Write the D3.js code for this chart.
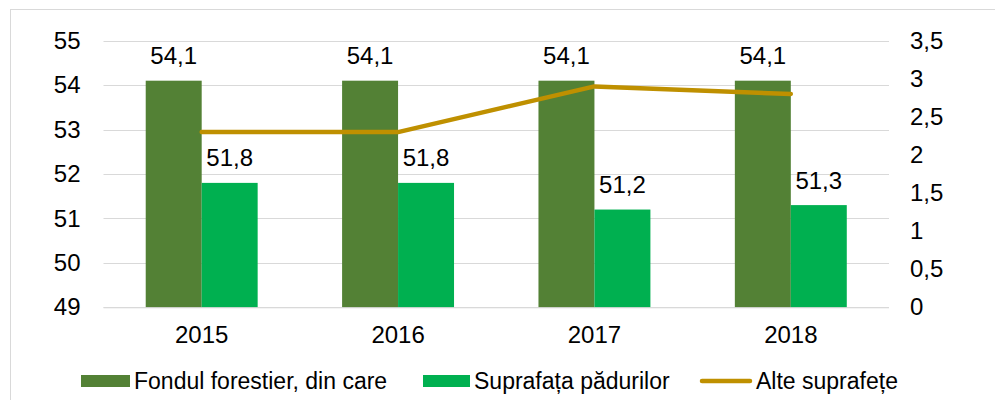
<!DOCTYPE html>
<html>
<head>
<meta charset="utf-8">
<title>Fond forestier</title>
<script src="https://cdn.jsdelivr.net/npm/d3@7"></script>
<style>
  body{ margin:0; background:#fff; }
  svg{ display:block; font-family:"Liberation Sans", Arial, sans-serif; }
  .grid line{ stroke:#d9d9d9; stroke-width:1; }
  .lbl{ font-size:24px; fill:#000; }
  .leg{ font-size:23px; fill:#000; }
</style>
</head>
<body>
<svg id="chart" width="995" height="400"></svg>
<script>
// data
var years = ["2015", "2016", "2017", "2018"];
var fondForestier = [54.1, 54.1, 54.1, 54.1];
var suprafataPadurilor = [51.8, 51.8, 51.2, 51.3];
var alteSuprafete = [2.3, 2.3, 2.9, 2.8];
var leftTicks = [49, 50, 51, 52, 53, 54, 55];
var rightTicks = [0, 0.5, 1, 1.5, 2, 2.5, 3, 3.5];
var seriesNames = ["Fondul forestier, din care", "Suprafața pădurilor", "Alte suprafețe"];
var colors = ["#538135", "#00b050", "#bf9000"];

var svg = d3.select("#chart");
var plotL = 103.5, plotR = 889, plotT = 40.7, plotB = 307.3;

var fmt = function(v){ return String(v).replace(".", ","); };

// outer border
svg.append("rect")
   .attr("x", 10.5).attr("y", 9.5)
   .attr("width", 1000).attr("height", 500)
   .attr("fill", "none").attr("stroke", "#d9d9d9");

var x = d3.scaleBand().domain(years).range([plotL, plotR]).paddingInner(0.43).paddingOuter(0.215);
var y = d3.scaleLinear().domain([49, 55]).range([plotB, plotT]);
var y2 = d3.scaleLinear().domain([0, 3.5]).range([plotB, plotT]);
var bw = x.bandwidth() / 2;

// gridlines
svg.append("g").attr("class", "grid")
   .selectAll("line").data(leftTicks).enter().append("line")
   .attr("x1", plotL).attr("x2", plotR)
   .attr("y1", function(d){ return Math.round(y(d)) + 0.5; })
   .attr("y2", function(d){ return Math.round(y(d)) + 0.5; });

// left axis
var gl = svg.append("g").attr("transform", "translate(" + plotL + ",0)")
   .call(d3.axisLeft(y).tickValues(leftTicks).tickSize(0).tickPadding(23).tickFormat(fmt));
gl.select(".domain").remove();
gl.selectAll("text").attr("class", "lbl").attr("font-family", null).attr("font-size", null);

// right axis
var gr = svg.append("g").attr("transform", "translate(" + plotR + ",0)")
   .call(d3.axisRight(y2).tickValues(rightTicks).tickSize(0).tickPadding(21).tickFormat(fmt));
gr.select(".domain").remove();
gr.selectAll("text").attr("class", "lbl").attr("font-family", null).attr("font-size", null);

// bars
var groups = svg.append("g").selectAll("g").data(years).enter().append("g")
   .attr("transform", function(d){ return "translate(" + x(d) + ",0)"; });

groups.append("rect")
   .attr("x", 0).attr("width", bw)
   .attr("y", function(d, i){ return y(fondForestier[i]); })
   .attr("height", function(d, i){ return plotB - y(fondForestier[i]); })
   .attr("fill", colors[0]);

groups.append("rect")
   .attr("x", bw).attr("width", bw)
   .attr("y", function(d, i){ return y(suprafataPadurilor[i]); })
   .attr("height", function(d, i){ return plotB - y(suprafataPadurilor[i]); })
   .attr("fill", colors[1]);

groups.append("text").attr("class", "lbl").attr("text-anchor", "middle")
   .attr("x", bw / 2)
   .attr("y", function(d, i){ return y(fondForestier[i]) - 16.5; })
   .text(function(d, i){ return fmt(fondForestier[i]); });

groups.append("text").attr("class", "lbl").attr("text-anchor", "middle")
   .attr("x", bw * 1.5)
   .attr("y", function(d, i){ return y(suprafataPadurilor[i]) - 16.5; })
   .text(function(d, i){ return fmt(suprafataPadurilor[i]); });

// x axis line + labels
svg.append("line").attr("x1", plotL).attr("x2", plotR)
   .attr("y1", plotB + 0.5).attr("y2", plotB + 0.5)
   .attr("stroke", "#d9d9d9");

var gx = svg.append("g").attr("transform", "translate(0," + plotB + ")")
   .call(d3.axisBottom(x).tickSize(0).tickPadding(19));
gx.select(".domain").remove();
gx.selectAll("text").attr("class", "lbl").attr("font-family", null).attr("font-size", null);

// line series
var line = d3.line()
   .x(function(d, i){ return x(years[i]) + x.bandwidth() / 2; })
   .y(function(d){ return y2(d); });

svg.append("path").datum(alteSuprafete)
   .attr("d", line)
   .attr("fill", "none").attr("stroke", colors[2])
   .attr("stroke-width", 4.5).attr("stroke-linecap", "round").attr("stroke-linejoin", "round");

// legend
var legendX = [81, 423, 700];
var leg = svg.append("g").selectAll("g").data(seriesNames).enter().append("g")
   .attr("transform", function(d, i){ return "translate(" + legendX[i] + ",381)"; });

leg.filter(function(d, i){ return i < 2; }).append("rect")
   .attr("x", 0).attr("y", -6).attr("width", function(d, i){ return i == 0 ? 49 : 47; }).attr("height", 12)
   .attr("fill", function(d, i){ return colors[i]; });

leg.filter(function(d, i){ return i == 2; }).append("line")
   .attr("x1", 2).attr("x2", 50).attr("y1", 0).attr("y2", 0)
   .attr("stroke", colors[2]).attr("stroke-width", 4.5).attr("stroke-linecap", "round");

leg.append("text").attr("class", "leg")
   .attr("x", function(d, i){ return i == 0 ? 53 : (i == 1 ? 51 : 56); })
   .attr("dy", "0.35em")
   .text(function(d){ return d; });
</script>
</body>
</html>
